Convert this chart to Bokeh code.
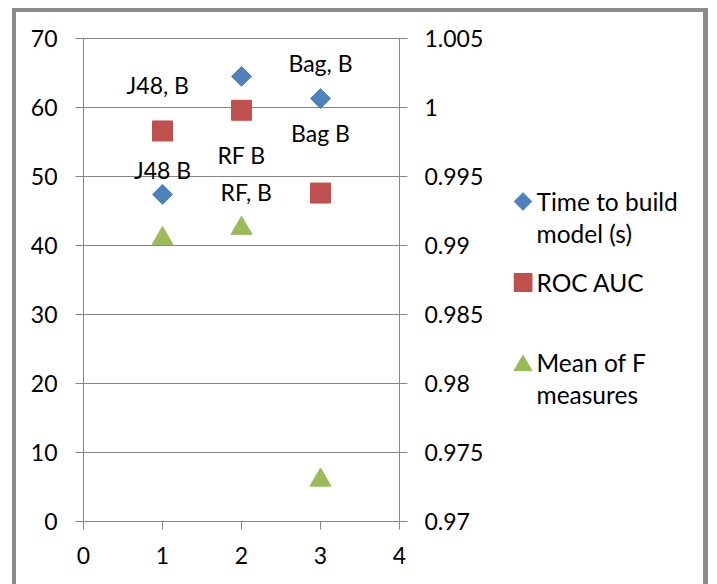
import numpy as np
from bokeh.plotting import figure
from bokeh.layouts import row
from bokeh.models import Range1d, LinearAxis, FixedTicker, CustomJSTickFormatter
from bokeh.core.properties import value
from bokeh.embed import file_html
from bokeh.resources import INLINE

# ---- data ----
x_vals = [1, 2, 3]
time_to_build = [47.4, 64.5, 61.3]          # left axis
roc_auc = [0.9983, 0.9998, 0.9938]          # right axis
mean_f = [0.9905, 0.99125, 0.9730]          # right axis

label_text = ["J48, B", "J48 B", "RF B", "RF, B", "Bag, B", "Bag B"]
label_x = [0.94, 1.0, 2.0, 2.06, 3.0, 3.0]
label_y = [63.2, 50.9, 53.1, 47.7, 66.4, 56.3]

left_ticks = [0, 10, 20, 30, 40, 50, 60, 70]
right_ticks = [0.97, 0.975, 0.98, 0.985, 0.99, 0.995, 1.0, 1.005]
x_ticks = [0, 1, 2, 3, 4]

legend_lines = [["Time to build", "model (s)"], ["ROC AUC"], ["Mean of F", "measures"]]
colors = ["#4F81BD", "#C0504D", "#9BBB59"]

GRID = "#868686"
BORDER = "#8c8c8c"
FONT = "Lato"
FS = "23px"
LEG_FS = "24.5px"

# layout: element boxes have no CSS border; the outer frame is drawn with box-shadows
X0, Y0 = 16, 12                      # top-left of the chart area inside the frame
MAIN_W, LEG_W, H = 497, 190, 572
ML, MT, MB, FW = 67, 26, 63, 316

p = figure(width=MAIN_W, height=H, output_backend="svg", toolbar_location=None,
           x_range=Range1d(0, 4), y_range=Range1d(0, 70),
           min_border_left=ML, min_border_top=MT, min_border_right=MAIN_W - ML - FW,
           min_border_bottom=MB)
p.extra_y_ranges = {"right": Range1d(0.97, 1.005)}
p.styles = {"box-shadow": f"0 -4px 0 0 {BORDER}, -4px 0 0 0 {BORDER}, -4px -4px 0 0 {BORDER}"}
p.margin = (Y0, 0, 0, X0)
p.outline_line_color = GRID
p.background_fill_color = "white"
p.border_fill_color = "white"

p.xgrid.visible = False
p.ygrid.ticker = FixedTicker(ticks=left_ticks)
p.ygrid.grid_line_color = GRID
p.ygrid.grid_line_width = 1

def style_axis(ax, standoff):
    ax.axis_line_color = GRID
    ax.major_tick_line_color = GRID
    ax.major_tick_out = 8
    ax.major_tick_in = 0
    ax.minor_tick_line_color = None
    ax.major_label_text_font = FONT
    ax.major_label_text_font_size = FS
    ax.major_label_text_color = "black"
    ax.major_label_standoff = standoff

p.xaxis.ticker = FixedTicker(ticks=x_ticks)
style_axis(p.xaxis[0], 17)
p.yaxis.ticker = FixedTicker(ticks=left_ticks)
style_axis(p.yaxis[0], 18)

raxis = LinearAxis(y_range_name="right", ticker=FixedTicker(ticks=right_ticks),
                   formatter=CustomJSTickFormatter(code="return String(parseFloat(tick.toFixed(3)));"))
style_axis(raxis, 17)
p.add_layout(raxis, "right")

p.scatter(x_vals, time_to_build, marker="square", angle=np.pi / 4, size=14,
          fill_color=colors[0], line_color=colors[0])
p.scatter(x_vals, roc_auc, marker="square", size=20, y_range_name="right",
          fill_color=colors[1], line_color=colors[1])
p.scatter(x_vals, mean_f, marker="triangle", size=21, y_range_name="right",
          fill_color=colors[2], line_color=colors[2])

p.text(x=label_x, y=label_y, text=label_text, text_align="center", text_baseline="middle",
       text_font=value(FONT), text_font_size=FS, text_color="black")

# ---- legend panel: ranges expressed in page pixel coordinates ----
page_left = X0 + MAIN_W
page_top_frame = Y0 + MT
page_bot_frame = Y0 + H - MB
lg = figure(width=LEG_W, height=H, output_backend="svg", toolbar_location=None,
            x_range=Range1d(page_left, page_left + LEG_W),
            y_range=Range1d(page_bot_frame, page_top_frame),
            min_border_left=0, min_border_right=0, min_border_top=MT, min_border_bottom=MB,
            x_axis_type=None, y_axis_type=None)
lg.grid.visible = False
lg.outline_line_color = None
lg.background_fill_color = "white"
lg.border_fill_color = "white"
lg.styles = {"box-shadow": f"0 -4px 0 0 {BORDER}, 5px 0 0 0 {BORDER}, 5px -4px 0 0 {BORDER}"}
lg.margin = (Y0, 5, 0, 0)

mk_x = 522.5
tx_x = 536
first_y = [201, 282, 362]
line_h = 32
lg.scatter([mk_x], [first_y[0]], marker="square", angle=np.pi / 4, size=12.5,
           fill_color=colors[0], line_color=colors[0])
lg.scatter([mk_x], [first_y[1]], marker="square", size=18,
           fill_color=colors[1], line_color=colors[1])
lg.scatter([mk_x], [first_y[2] + 3], marker="triangle", size=18,
           fill_color=colors[2], line_color=colors[2])
tx, ty, tt = [], [], []
for lines, fy in zip(legend_lines, first_y):
    for i, ln in enumerate(lines):
        tx.append(tx_x)
        ty.append(fy + i * line_h)
        tt.append(ln)
lg.text(x=tx, y=ty, text=tt, text_align="left", text_baseline="middle",
        text_font=value(FONT), text_font_size=LEG_FS, text_color="black")

layout = row(p, lg)
open("out.html", "w").write(file_html(layout, INLINE))
